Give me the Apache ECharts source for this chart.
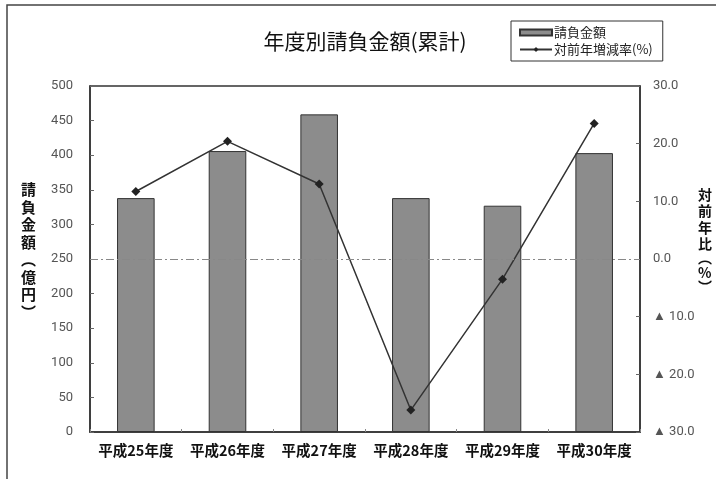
<!DOCTYPE html>
<html>
<head>
<meta charset="utf-8">
<script src="https://cdn.jsdelivr.net/npm/echarts@6/dist/echarts.min.js"></script>
<style>
html,body{margin:0;padding:0;background:#fff;}
#c{width:716px;height:479px;}
</style>
</head>
<body>
<div id="c"></div>
<script>
var categories = ['平成25年度','平成26年度','平成27年度','平成28年度','平成29年度','平成30年度'];
var amounts = [338, 406, 459, 338, 327, 403];
var rates = [11.7, 20.4, 13.0, -26.2, -3.5, 23.5];
var leftTicks = {min: 0, max: 500, interval: 50};
var rightTicks = {min: -30, max: 30, interval: 10};

var FONT = '"Noto Sans CJK JP", sans-serif';
var chart = echarts.init(document.getElementById('c'));
chart.setOption({
  backgroundColor: '#fff',
  animation: false,
  textStyle: {fontFamily: FONT},
  title: {
    text: '年度別請負金額(累計)',
    left: 360, top: 26, textAlign: 'center',
    textStyle: {fontSize: 21, fontWeight: 'normal', color: '#111', fontFamily: FONT}
  },
  legend: {
    left: 511, top: 21, orient: 'vertical',
    itemGap: 4, padding: [5, 10, 5, 8],
    borderColor: '#333', borderWidth: 1,
    itemWidth: 32, itemHeight: 6,
    textStyle: {fontSize: 13, color: '#222', fontFamily: FONT, padding: [0,0,0,-3]},
    data: [
      {name: '請負金額', icon: 'rect'},
      {name: '対前年増減率(%)'}
    ]
  },
  grid: {left: 90, right: 76, top: 86, bottom: 47, show: true, borderColor: '#333', borderWidth: 1.5},
  xAxis: {
    type: 'category', data: categories,
    axisLine: {lineStyle: {color: '#333', width: 1.5}},
    axisTick: {show: true, inside: true, length: 3, lineStyle: {color: '#888'}},
    axisLabel: {interval: 0, fontSize: 14.5, fontWeight: 'bold', color: '#111', margin: 11, fontFamily: FONT}
  },
  yAxis: [
    {
      type: 'value', min: leftTicks.min, max: leftTicks.max, interval: leftTicks.interval,
      axisLine: {show: true, lineStyle: {color: '#333', width: 1.5}},
      axisTick: {show: true, inside: true, length: 4, lineStyle: {color: '#666'}},
      splitLine: {show: false},
      axisLabel: {fontSize: 13, color: '#555', margin: 17, fontFamily: 'Roboto, sans-serif'}
    },
    {
      type: 'value', min: rightTicks.min, max: rightTicks.max, interval: rightTicks.interval,
      position: 'right',
      axisLine: {show: true, lineStyle: {color: '#333', width: 1.5}},
      axisTick: {show: true, inside: true, length: 4, lineStyle: {color: '#666'}},
      splitLine: {show: false},
      axisLabel: {
        fontSize: 13, color: '#555', margin: 13, fontFamily: 'Roboto, sans-serif',
        formatter: function (v) { return v < 0 ? '▲ ' + Math.abs(v).toFixed(1) : v.toFixed(1); }
      }
    }
  ],
  graphic: [
    {type: 'polyline', silent: true, shape: {points: [[7, 479], [7, 5], [716, 5]]},
     style: {stroke: '#444', lineWidth: 1.5, fill: null}},
    {type: 'text', left: 21, top: 181, silent: true,
     style: {text: '請\n負\n金\n額\n︵\n億\n円\n︶', font: 'bold 15px "Noto Sans CJK JP"', lineHeight: 17.5, fill: '#111'}},
    {type: 'text', left: 698, top: 186, silent: true,
     style: {
       text: '対\n前\n年\n比\n{p|︵}\n%\n{p|︶}',
       font: 'bold 14px "Noto Sans CJK JP"', lineHeight: 16.5, fill: '#111',
       rich: {p: {font: 'bold 14px "Noto Sans CJK JP"', lineHeight: 12, fill: '#111'}}
     }}
  ],
  series: [
    {
      name: '請負金額', type: 'bar', data: amounts, yAxisIndex: 0,
      barWidth: '41%',
      itemStyle: {color: '#8c8c8c', borderColor: '#333', borderWidth: 1}
    },
    {
      name: '対前年増減率(%)', type: 'line', data: rates, yAxisIndex: 1,
      symbol: 'diamond', symbolSize: 9,
      lineStyle: {color: '#333', width: 1.5},
      itemStyle: {color: '#222'},
      markLine: {
        silent: true, symbol: 'none', label: {show: false},
        lineStyle: {color: '#888', type: [8, 3, 2, 3], width: 1},
        data: [{yAxis: 0}]
      }
    }
  ]
});
</script>
</body>
</html>
